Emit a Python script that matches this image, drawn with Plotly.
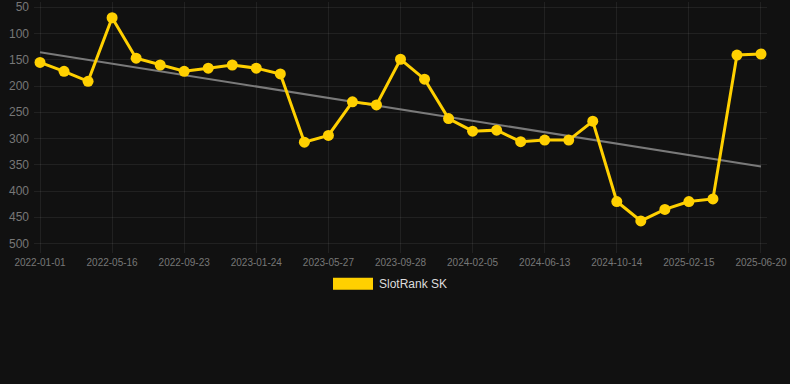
import numpy as np
import plotly.graph_objects as go

tick_labels = ["2022-01-01", "2022-05-16", "2022-09-23", "2023-01-24", "2023-05-27",
               "2023-09-28", "2024-02-05", "2024-06-13", "2024-10-14", "2025-02-15",
               "2025-06-20"]
rank_values = [155, 172, 191, 70, 147, 160, 172, 166, 160, 166,
               177, 307, 294, 230, 236, 149, 187, 262, 286, 284,
               306, 303, 303, 267, 420, 457, 435, 420, 415, 141, 139]
series_name = "SlotRank SK"

idx = np.arange(len(rank_values))
slope, intercept = np.polyfit(idx, rank_values, 1)
trend = slope * idx + intercept

fig = go.Figure()
fig.add_trace(go.Scatter(x=idx, y=trend, mode="lines",
                         line=dict(color="#7a7a7a", width=2),
                         showlegend=False, hoverinfo="skip"))
fig.add_trace(go.Scatter(x=idx, y=rank_values, mode="lines+markers", name=series_name,
                         line=dict(color="#FFD000", width=3),
                         marker=dict(color="#FFD000", size=11),
                         showlegend=False))

# legend drawn as box + label (Chart.js style)
fig.add_shape(type="rect", xref="paper", yref="paper",
              x0=(333 - 34) / 733, x1=(373 - 34) / 733,
              y0=-(278 - 253) / 253, y1=-(290 - 253) / 253,
              fillcolor="#FFD000", line=dict(width=0))
fig.add_annotation(xref="paper", yref="paper", x=(379 - 34) / 733, y=-(284 - 253) / 253,
                   text=series_name, showarrow=False, xanchor="left", yanchor="middle",
                   xshift=-2,
                   font=dict(family="Liberation Sans, Arial, sans-serif", size=12, color="#dddddd"))

grid = "rgba(255,255,255,0.07)"
fig.update_layout(
    width=790, height=384,
    margin=dict(l=34, r=23, t=0, b=131),
    paper_bgcolor="#111111", plot_bgcolor="#111111",
    font=dict(family="Liberation Sans, Arial, sans-serif", color="#777777"),
    showlegend=False,
    xaxis=dict(range=[-0.25, 30.25], tickmode="array",
               tickvals=list(range(0, len(rank_values), 3)), ticktext=tick_labels,
               showgrid=True, gridcolor=grid, zeroline=False, showline=False,
               tickfont=dict(size=10, color="#777777"), ticks="", ticklabelstandoff=2,
               ticklabeloverflow="allow"),
    yaxis=dict(range=[518, 40], tickmode="array", tickvals=list(range(50, 501, 50)),
               showgrid=True, gridcolor=grid, zeroline=False, showline=False,
               tickfont=dict(size=12, color="#777777"), ticks="", ticklabelstandoff=4,
               ticklabeloverflow="allow"),
)

fig.write_html("out.html", config={"displayModeBar": False},
               post_script="document.body.style.margin='0';document.body.style.background='#111111';")
